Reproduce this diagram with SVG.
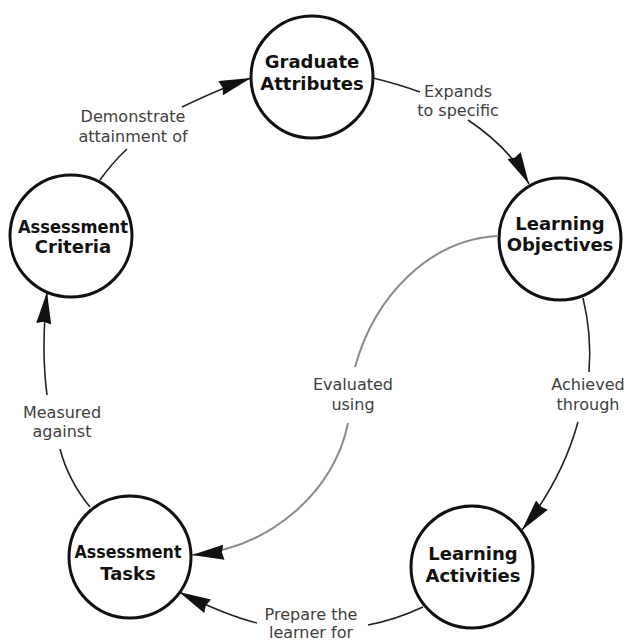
<svg xmlns="http://www.w3.org/2000/svg" width="628" height="642" viewBox="0 0 628 642">
<defs>
<style>
.node circle{fill:#fff;stroke:#111;stroke-width:3}
.node text{font-family:"DejaVu Sans",Verdana,sans-serif;font-weight:bold;font-size:18px;fill:#111;text-anchor:middle}
.lbl text{font-family:"DejaVu Sans",Verdana,sans-serif;font-size:16px;fill:#404040;text-anchor:middle}
.c{fill:none;stroke:#222;stroke-width:1.6}
.g{fill:none;stroke:#8a8a8a;stroke-width:2}
</style>
<marker id="ah" markerUnits="userSpaceOnUse" viewBox="0 0 32 15" markerWidth="32" markerHeight="15" refX="32" refY="7.5" orient="auto">
<path d="M0,0 L32,7.5 L0,15 L2,7.5 z" fill="#111"/>
</marker>
</defs>
<rect width="628" height="642" fill="#fff"/>
<g id="connectors">
<path class="c" d="M100,180 Q112,163 127,149"/>
<path class="c" d="M182,107 Q224,87 251,78" marker-end="url(#ah)"/>
<path class="c" d="M373,78 Q398,84 420,92"/>
<path class="c" d="M468,120 Q510,148 529,184" marker-end="url(#ah)"/>
<path class="c" d="M583,298 Q592,335 589,372"/>
<path class="c" d="M578,422 Q562,480 522,530" marker-end="url(#ah)"/>
<path class="c" d="M423,607 Q395,620 368,625"/>
<path class="c" d="M257,623 Q225,615 179,592" marker-end="url(#ah)"/>
<path class="c" d="M90,507 Q68,480 60,449"/>
<path class="c" d="M47,395 Q41,350 47,292" marker-end="url(#ah)"/>
<path class="g" d="M497,236 C430,240 375,295 355,367"/>
<path class="g" d="M348,423 C335,490 272,548 192,555" marker-end="url(#ah)"/>
</g>
<g class="lbl" id="labels">
<text x="133" y="122">Demonstrate</text>
<text x="133" y="142">attainment of</text>
<text x="458" y="97">Expands</text>
<text x="458" y="116">to specific</text>
<text x="588" y="390">Achieved</text>
<text x="588" y="410">through</text>
<text x="353" y="390">Evaluated</text>
<text x="353" y="410">using</text>
<text x="311" y="620">Prepare the</text>
<text x="311" y="638">learner for</text>
<text x="62" y="418">Measured</text>
<text x="62" y="437">against</text>
</g>
<g class="node" id="graduate-attributes">
<circle cx="312" cy="77" r="61"/>
<text x="312" y="68">Graduate</text>
<text x="312" y="90">Attributes</text>
</g>
<g class="node" id="learning-objectives">
<circle cx="560" cy="239" r="61"/>
<text x="560" y="230">Learning</text>
<text x="560" y="251">Objectives</text>
</g>
<g class="node" id="learning-activities">
<circle cx="472" cy="567" r="61"/>
<text x="473" y="560">Learning</text>
<text x="473" y="582">Activities</text>
</g>
<g class="node" id="assessment-tasks">
<circle cx="130" cy="557" r="61"/>
<text x="128" y="558" textLength="107" lengthAdjust="spacingAndGlyphs">Assessment</text>
<text x="128" y="580">Tasks</text>
</g>
<g class="node" id="assessment-criteria">
<circle cx="71" cy="236" r="61"/>
<text x="73" y="233" textLength="110" lengthAdjust="spacingAndGlyphs">Assessment</text>
<text x="73" y="253">Criteria</text>
</g>
</svg>
